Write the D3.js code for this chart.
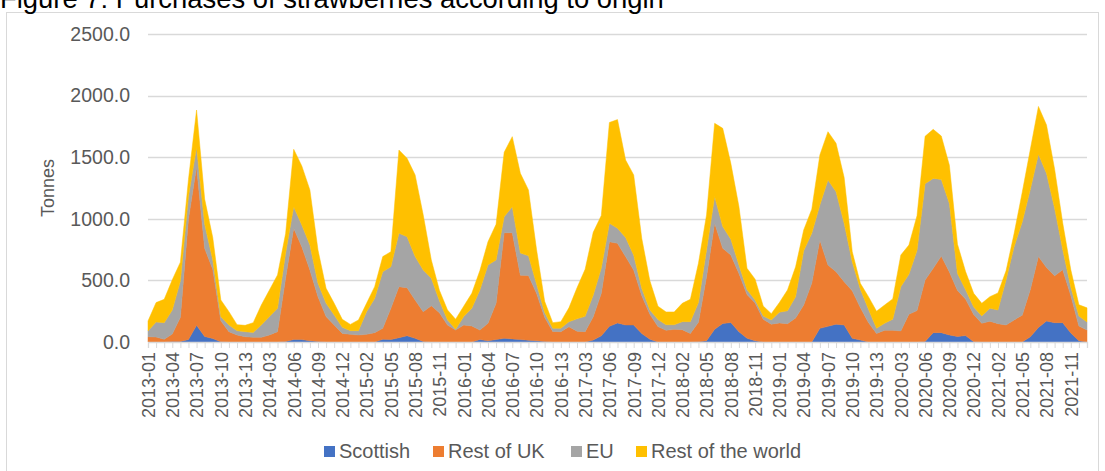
<!DOCTYPE html>
<html>
<head>
<meta charset="utf-8">
<script src="https://cdn.jsdelivr.net/npm/d3@7"></script>
<style>
  html, body { margin: 0; padding: 0; background: #fff; }
  svg { display: block; font-family: "Liberation Sans", Arial, sans-serif; }
</style>
</head>
<body>
<svg id="chart" width="1105" height="471"></svg>
<script>
// Four-weekly periods (13 per year), 2013-01 to 2021-13
const years = [2013, 2014, 2015, 2016, 2017, 2018, 2019, 2020, 2021];
const periodsPerYear = 13;
const categories = [];
years.forEach(y => {
  for (let p = 1; p <= periodsPerYear; p++) categories.push(y + "-" + String(p).padStart(2, "0"));
});

// Tonnes purchased, by origin
const scottish = [
  0, 0, 0, 5, 5, 20, 135, 45, 28, 2, 0, 0, 0,
  0, 0, 0, 0, 5, 20, 20, 10, 5, 0, 0, 0, 0,
  0, 0, 0, 22, 20, 35, 51, 30, 5, 0, 0, 0, 0,
  0, 0, 20, 10, 20, 30, 25, 20, 15, 10, 5, 0, 0,
  0, 0, 0, 16, 50, 127, 155, 138, 138, 68, 23, 0, 0,
  0, 0, 0, 3, 10, 103, 150, 158, 84, 30, 10, 0, 0,
  0, 0, 0, 0, 0, 111, 127, 145, 138, 30, 16, 0, 0,
  0, 0, 0, 0, 0, 5, 76, 76, 57, 45, 52, 3, 0,
  0, 0, 0, 0, 0, 42, 118, 170, 157, 157, 73, 10, 0
];
const restOfUK = [
  43, 40, 22, 60, 195, 980, 1288, 715, 562, 170, 84, 57, 43,
  38, 38, 57, 84, 515, 903, 754, 574, 363, 206, 138, 70, 62,
  57, 62, 76, 89, 253, 414, 390, 311, 241, 295, 238, 138, 97,
  138, 130, 77, 142, 294, 857, 862, 522, 525, 385, 195, 86, 84,
  124, 88, 84, 189, 345, 687, 646, 555, 446, 307, 203, 125, 95,
  103, 100, 70, 157, 520, 860, 610, 548, 473, 355, 306, 185, 145,
  155, 149, 195, 300, 479, 717, 498, 426, 352, 385, 264, 158, 70,
  95, 95, 90, 226, 255, 499, 522, 622, 512, 373, 297, 220, 152,
  169, 149, 138, 179, 218, 385, 577, 434, 380, 430, 304, 119, 97
];
const eu = [
  47, 122, 135, 195, 295, 180, 157, 195, 76, 33, 54, 35, 41,
  40, 100, 149, 189, 200, 175, 176, 203, 108, 108, 81, 49, 30,
  35, 184, 278, 460, 338, 433, 414, 352, 338, 222, 97, 41, 6,
  68, 143, 325, 473, 352, 130, 211, 180, 160, 75, 40, 25, 27,
  41, 100, 124, 175, 205, 149, 122, 155, 121, 60, 34, 57, 45,
  37, 65, 95, 160, 217, 217, 177, 129, 68, 40, 25, 27, 34,
  87, 104, 173, 440, 403, 284, 690, 649, 473, 235, 149, 108, 41,
  57, 90, 359, 324, 487, 781, 730, 622, 555, 139, 75, 62, 60,
  104, 111, 365, 595, 757, 812, 829, 764, 548, 163, 67, 82, 65
];
const restOfWorld = [
  80, 158, 189, 245, 153, 140, 303, 205, 182, 136, 108, 49, 51,
  79, 162, 216, 271, 160, 466, 479, 447, 271, 122, 95, 65, 51,
  87, 68, 95, 122, 122, 676, 636, 663, 447, 149, 85, 81, 82,
  84, 122, 158, 189, 289, 523, 569, 647, 534, 280, 90, 46, 54,
  112, 252, 382, 510, 427, 819, 882, 629, 651, 405, 237, 108, 104,
  104, 149, 181, 319, 284, 595, 797, 615, 475, 173, 169, 80, 51,
  78, 169, 242, 169, 196, 406, 392, 393, 372, 83, 47, 102, 139,
  148, 165, 257, 237, 283, 385, 398, 352, 311, 237, 148, 110, 102,
  95, 138, 75, 108, 241, 325, 388, 393, 318, 216, 142, 91, 115
];

const seriesNames = ["Scottish", "Rest of UK", "EU", "Rest of the world"];
const seriesColors = ["#4472C4", "#ED7D31", "#A5A5A5", "#FFC000"];
const yTicks = [0, 500, 1000, 1500, 2000, 2500];

const rows = categories.map((c, i) => ({
  period: c,
  "Scottish": scottish[i],
  "Rest of UK": restOfUK[i],
  "EU": eu[i],
  "Rest of the world": restOfWorld[i]
}));

const svg = d3.select("#chart");
const textColor = "#595959";
const gridColor = "#d9d9d9";

// Outer chart frame
svg.append("rect")
  .attr("x", 6.5).attr("y", 12.5)
  .attr("width", 1092).attr("height", 470)
  .attr("fill", "#fff").attr("stroke", gridColor).attr("stroke-width", 1);

// Title (sits against the top edge of the page)
svg.append("text")
  .attr("x", 0).attr("y", 7.5)
  .attr("font-size", 27.4).attr("fill", "#000")
  .text("Figure 7: Purchases of strawberries according to origin");

const plot = { left: 148, right: 1087, top: 34, bottom: 342 };

const x = d3.scalePoint().domain(categories).range([plot.left, plot.right]);
const y = d3.scaleLinear().domain([0, 2500]).range([plot.bottom, plot.top]);

// Horizontal gridlines
svg.append("g")
  .selectAll("line")
  .data(yTicks.filter(t => t > 0))
  .join("line")
  .attr("x1", plot.left).attr("x2", plot.right)
  .attr("y1", d => Math.round(y(d)) + 0.5).attr("y2", d => Math.round(y(d)) + 0.5)
  .attr("stroke", gridColor).attr("stroke-width", 1.3);

// Stacked areas
const stack = d3.stack().keys(seriesNames);
const layers = stack(rows);
const area = d3.area()
  .x(d => x(d.data.period))
  .y0(d => y(d[0]))
  .y1(d => y(d[1]));

svg.append("g")
  .selectAll("path")
  .data(layers)
  .join("path")
  .attr("d", area)
  .attr("fill", (d, i) => seriesColors[i])
  .attr("stroke", (d, i) => seriesColors[i])
  .attr("stroke-width", 0.5);

// Y axis labels
const yAxis = d3.axisLeft(y)
  .tickValues(yTicks)
  .tickFormat(d3.format(".1f"))
  .tickSize(0)
  .tickPadding(18);
const yg = svg.append("g").attr("transform", `translate(${plot.left},0)`).call(yAxis);
yg.select(".domain").remove();
yg.selectAll("text").attr("font-size", 19.5).attr("fill", textColor)
  .attr("font-family", "Liberation Sans, Arial, sans-serif");

// X axis: tick at each period, label every third period
const xAxis = d3.axisBottom(x)
  .tickSize(6)
  .tickFormat((d, i) => (i % 3 === 0 ? d : ""));
const xg = svg.append("g").attr("transform", `translate(0,${plot.bottom})`).call(xAxis);
xg.select(".domain").attr("stroke", gridColor).attr("stroke-width", 1.3);
xg.selectAll(".tick line").attr("stroke", gridColor);
xg.selectAll(".tick text")
  .attr("font-size", 18).attr("fill", textColor)
  .attr("font-family", "Liberation Sans, Arial, sans-serif")
  .attr("transform", "rotate(-90)")
  .attr("text-anchor", "end")
  .attr("x", -10).attr("y", 0)
  .attr("dy", "0.35em");

// Y axis title
svg.append("text")
  .attr("transform", "translate(54,188) rotate(-90)")
  .attr("text-anchor", "middle")
  .attr("font-size", 18).attr("fill", textColor)
  .text("Tonnes");

// Legend
const legendItems = [
  { name: "Scottish", x: 324 },
  { name: "Rest of UK", x: 433 },
  { name: "EU", x: 571 },
  { name: "Rest of the world", x: 636 }
];
const lg = svg.append("g");
legendItems.forEach((item, i) => {
  lg.append("rect")
    .attr("x", item.x).attr("y", 446)
    .attr("width", 11).attr("height", 11)
    .attr("fill", seriesColors[i]);
  lg.append("text")
    .attr("x", item.x + 15).attr("y", 458)
    .attr("font-size", 20).attr("fill", textColor)
    .text(item.name);
});
</script>
</body>
</html>
